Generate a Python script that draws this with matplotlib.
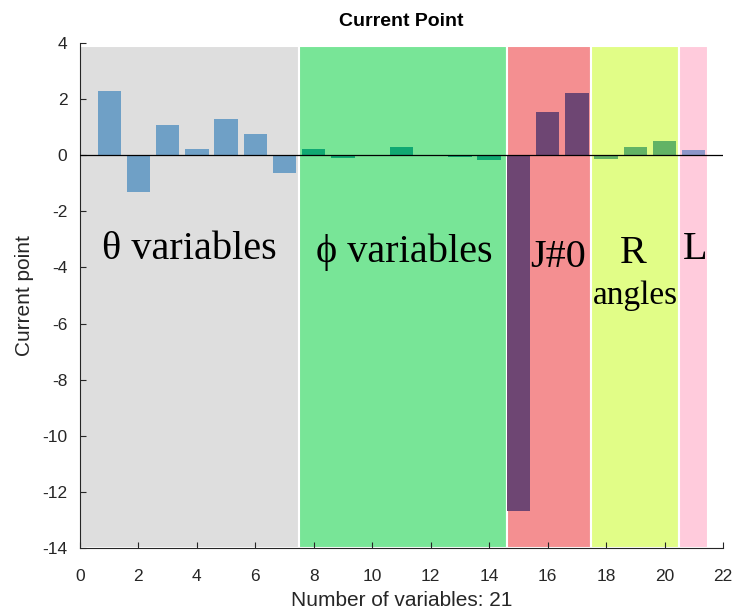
import numpy as np
import matplotlib.pyplot as plt
from matplotlib.patches import Rectangle

# bar values for variables 1..21
theta_vals = [2.30, -1.32, 1.08, 0.21, 1.29, 0.75, -0.65]
phi_vals = [0.23, -0.11, 0.01, 0.28, -0.02, -0.08, -0.18]
j_vals = [-12.67, 1.55, 2.23]
r_vals = [-0.14, 0.29, 0.49]
l_vals = [0.18]

groups = [
    # (values, bar colour, region start, region end, region colour)
    (theta_vals, '#6fa0c6', 0.0, 7.5, '#dedede'),
    (phi_vals, '#10a872', 7.5, 14.6, '#78e597'),
    (j_vals, '#6e4673', 14.6, 17.5, '#f48f91'),
    (r_vals, '#62b365', 17.5, 20.5, '#e1fd87'),
    (l_vals, '#8d96c9', 20.5, 21.5, '#ffcbdc'),
]

labels = [
    ('θ variables', 3.76, -3.71, 29),
    ('ϕ variables', 11.08, -3.81, 29),
    ('J#0', 16.35, -4.0, 29),
    ('R', 18.92, -3.84, 29),
    ('angles', 19.0, -5.3, 24),
    ('L', 21.04, -3.71, 29),
]

plt.rcParams['font.family'] = ['Liberation Sans', 'DejaVu Sans']
plt.rcParams['axes.unicode_minus'] = False

fig = plt.figure(figsize=(7.35, 6.09), dpi=100)
ax = fig.add_axes([0.1088, 0.1002, 0.8749, 0.8292])

start = 1
for vals, bcol, x0, x1, rcol in groups:
    ax.add_patch(Rectangle((x0, -14), x1 - x0, 17.9, facecolor=rcol,
                           edgecolor='white', linewidth=1.5, zorder=0))
    xs = np.arange(start, start + len(vals))
    ax.bar(xs, vals, width=0.8, color=bcol, zorder=2)
    start += len(vals)

ax.axhline(0, color='black', linewidth=0.9, zorder=3)

for txt, x, y, fs in labels:
    ax.text(x, y, txt, ha='center', va='baseline', fontsize=fs,
            family=['Liberation Serif', 'DejaVu Serif'], zorder=4)

ax.set_xlim(0, 22)
ax.set_ylim(-14, 4)
ax.set_xticks(np.arange(0, 23, 2))
ax.set_yticks(np.arange(-14, 5, 2))
ax.tick_params(direction='in', labelsize=12.5, colors='#262626', length=4)
ax.tick_params(axis='x', pad=15)
ax.tick_params(axis='y', pad=9)
for s in ['top', 'right']:
    ax.spines[s].set_visible(False)
for s in ['left', 'bottom']:
    ax.spines[s].set_color('#262626')

ax.set_title('Current Point', fontsize=14, fontweight='bold', pad=12)
ax.set_xlabel('Number of variables: 21', fontsize=15, color='#262626', labelpad=5)
ax.set_ylabel('Current point', fontsize=15, color='#262626', labelpad=6)

fig.savefig('out.png', dpi=100)
